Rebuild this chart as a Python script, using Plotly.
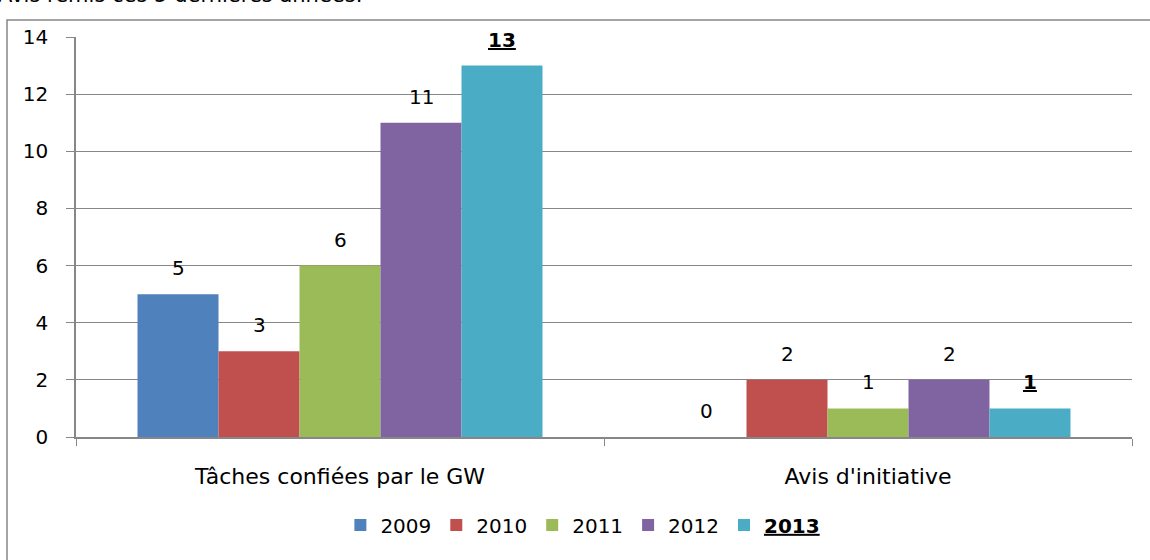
import plotly.graph_objects as go

categories = ["Tâches confiées par le GW", "Avis d'initiative"]
years = ["2009", "2010", "2011", "2012", "2013"]
values = {
    "2009": [5, 0],
    "2010": [3, 2],
    "2011": [6, 1],
    "2012": [11, 2],
    "2013": [13, 1],
}
colors = ["#4F81BD", "#C0504D", "#9BBB59", "#8064A2", "#4BACC6"]
y_ticks = [0, 2, 4, 6, 8, 10, 12, 14]
highlight_year = "2013"
title_text = "Avis remis ces 5 dernières années."

FONT = "DejaVu Sans, Open Sans, sans-serif"
FS = 20
GRID = "#878787"
W, H = 1150, 560
ML, MR, MT, MB = 76, 18, 37, 123
PW, PH = W - ML - MR, H - MT - MB
BARGAP = 0.233

fig = go.Figure()
for y, c in zip(years, colors):
    name = f"<b><u>{y}</u></b>" if y == highlight_year else y
    fig.add_trace(go.Bar(x=categories, y=values[y], name=name,
                         marker=dict(color=c, line=dict(width=0))))

# value labels placed via category index + group offset
n = len(years)
w = (1 - BARGAP) / n
for si, y in enumerate(years):
    for ci, v in enumerate(values[y]):
        txt = f"<b><u>{v}</u></b>" if y == highlight_year else str(v)
        fig.add_annotation(x=ci + (si - (n - 1) / 2) * w, y=v, xref="x", yref="y",
                           text=txt, showarrow=False, yanchor="middle", yshift=26,
                           font=dict(family=FONT, size=FS, color="black"))

def px_x(p):
    return (p - ML) / PW

def px_y(p):
    return (MT + PH - p) / PH

# outer chart border (extends beyond visible area)
fig.add_shape(type="rect", xref="paper", yref="paper",
              x0=px_x(7), x1=px_x(1160), y0=px_y(570), y1=px_y(20),
              line=dict(color=GRID, width=1.5), fillcolor="rgba(0,0,0,0)", layer="below")

# clipped title text at top
fig.add_annotation(xref="paper", yref="paper", x=px_x(-4), y=px_y(-5),
                   xanchor="left", yanchor="middle", showarrow=False,
                   text=title_text, font=dict(family=FONT, size=21, color="black"))

fig.update_layout(
    width=W, height=H,
    margin=dict(l=ML, r=MR, t=MT, b=MB),
    paper_bgcolor="white", plot_bgcolor="white",
    barmode="group", bargap=BARGAP, bargroupgap=0,
    font=dict(family=FONT, size=FS, color="black"),
    showlegend=True,
    legend=dict(orientation="h", x=0.48, xanchor="center", y=px_y(525), yanchor="middle",
                font=dict(family=FONT, size=FS, color="black"), itemwidth=30,
                traceorder="normal"),
)
fig.update_yaxes(range=[0, 14], tickvals=y_ticks, showgrid=True, gridcolor=GRID, gridwidth=1,
                 showline=True, linecolor=GRID, linewidth=1.5, ticks="outside", ticklen=8,
                 tickcolor=GRID, ticklabelstandoff=14, zeroline=False,
                 tickfont=dict(family=FONT, size=FS))
fig.update_xaxes(showline=True, linecolor=GRID, linewidth=1.5, ticks="outside", ticklen=7,
                 tickcolor=GRID, tickson="boundaries", ticklabelstandoff=19,
                 tickfont=dict(family=FONT, size=22))

fig.write_html("out.html", config={"displayModeBar": False},
               post_script="document.body.style.margin='0px';")
